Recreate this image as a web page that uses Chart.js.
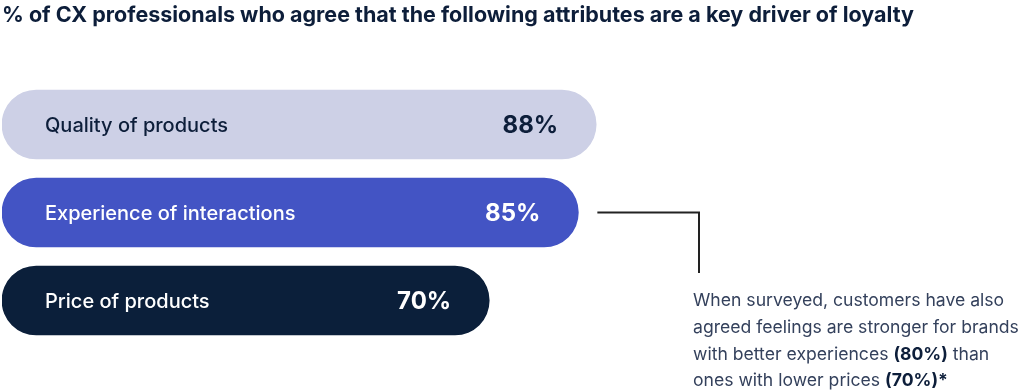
<!DOCTYPE html>
<html>
<head>
<meta charset="utf-8">
<script src="https://cdn.jsdelivr.net/npm/chart.js@4.4.0/dist/chart.umd.min.js"></script>
<style>
  html, body { margin: 0; padding: 0; background: #ffffff; }
  #wrap { position: relative; width: 1024px; height: 391px; overflow: hidden; font-family: Inter, 'Noto Sans', sans-serif; }
  #wrap canvas { position: absolute; left: 0; top: 0; }
  #title { position: absolute; left: 2px; top: 1px; font-size: 21.5px; font-weight: 700; color: #0d1e3a; white-space: nowrap; }
  #note { position: absolute; left: 693px; top: 287px; font-size: 17.6px; line-height: 26.8px; font-weight: 400; color: #34415c; white-space: nowrap; }
  #note b { font-weight: 700; color: #0d1e3a; }
</style>
</head>
<body>
<div id="wrap">
  <canvas id="cxchart" width="1024" height="391"></canvas>
  <div id="title">% of CX professionals who agree that the following attributes are a key driver of loyalty</div>
  <div id="note">When surveyed, customers have also<br>agreed feelings are stronger for brands<br>with better experiences <b>(80%)</b> than<br>ones with lower prices <b>(70%)*</b></div>
</div>
<script>
'use strict'
var categories = ['Quality of products', 'Experience of interactions', 'Price of products'];
var values = [88, 85, 70];
var valueLabels = ['88%', '85%', '70%'];

var barColors = ['#cdd0e6', '#4354c4', '#0b1f3a'];
var textColors = ['#0d1e3a', '#ffffff', '#ffffff'];

/* labels inside the bars + connector line */
var barLabels = {
    id: 'barLabels',
    afterDatasetsDraw: function (chart) {
        var ctx = chart.ctx;
        var bars = chart.getDatasetMeta(0).data;
        ctx.save();
        bars.forEach(function (bar, i) {
            ctx.fillStyle = textColors[i];
            ctx.textBaseline = 'middle';
            ctx.font = '500 20px Inter';
            ctx.textAlign = 'left';
            ctx.fillText(categories[i], bar.base + 43, bar.y + 1);
            ctx.font = '700 24px Inter';
            ctx.textAlign = 'right';
            ctx.fillText(valueLabels[i], bar.x - 38, bar.y + 1);
        });
        // connector from the experience bar to the note
        var b = bars[1];
        ctx.strokeStyle = '#222222';
        ctx.lineWidth = 2;
        ctx.beginPath();
        ctx.moveTo(b.x + 19, b.y);
        ctx.lineTo(699, b.y);
        ctx.lineTo(699, 273);
        ctx.stroke();
        ctx.restore();
    }
};

var ctx = document.getElementById('cxchart').getContext('2d');
var cxChart = new Chart(ctx, {
    type: 'bar',
    data: {
        labels: categories,
        datasets: [{
            data: values,
            base: -12,
            backgroundColor: barColors,
            borderRadius: 35,
            borderSkipped: false,
            barThickness: 69
        }]
    },
    options: {
        indexAxis: 'y',
        responsive: false,
        animation: false,
        layout: {
            padding: { left: 2, right: 0, top: 80.5, bottom: 46.5 }
        },
        plugins: {
            legend: { display: false },
            tooltip: { enabled: false }
        },
        scales: {
            x: { display: false, min: -12, max: 160 },
            y: { display: false }
        }
    },
    plugins: [barLabels]
});
</script>
</body>
</html>
